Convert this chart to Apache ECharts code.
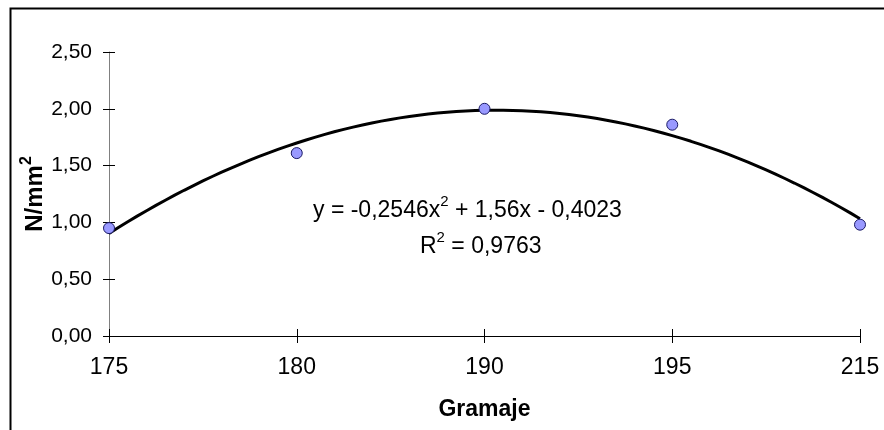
<!DOCTYPE html>
<html>
<head>
<meta charset="utf-8">
<script src="https://cdn.jsdelivr.net/npm/echarts@6/dist/echarts.min.js"></script>
<style>
html,body{margin:0;padding:0;background:#fff;}
#c{width:884px;height:430px;}
</style>
</head>
<body>
<div id="c"></div>
<script>
const categories = ['175', '180', '190', '195', '215'];
const values = [0.95, 1.61, 2.00, 1.86, 0.98];
const trendCoef = [-0.2546, 1.56, -0.4023];
const yMin = 0, yMax = 2.5, yStep = 0.5;

const FONT = '"Liberation Sans", Arial, sans-serif';
const pts = values.map((v, i) => [i + 1, v]);
const trend = [];
for (let i = 0; i <= 80; i++) {
  const x = 1 + i * 0.05;
  trend.push([x, trendCoef[0] * x * x + trendCoef[1] * x + trendCoef[2]]);
}
const fmtY = v => v.toFixed(2).replace('.', ',');
const gridPos = {left: 109, right: 24, top: 52, bottom: 94};

const chart = echarts.init(document.getElementById('c'));
chart.setOption({
  animation: false,
  backgroundColor: '#fff',
  grid: [Object.assign({}, gridPos), Object.assign({}, gridPos)],
  xAxis: [{
    type: 'value', min: 1, max: categories.length, interval: 1, gridIndex: 0,
    splitLine: {show: false},
    axisLine: {show: true, onZero: false, lineStyle: {color: '#000', width: 1}},
    axisTick: {show: true, length: 7, lineStyle: {color: '#000'}},
    axisLabel: {formatter: v => categories[v - 1] || '', color: '#000', fontFamily: FONT, fontSize: 23, margin: 20},
    name: 'Gramaje', nameLocation: 'middle', nameGap: 62,
    nameTextStyle: {fontFamily: FONT, fontSize: 23, fontWeight: 'bold', color: '#000'}
  }, {
    type: 'value', min: 1, max: categories.length, interval: 1, gridIndex: 1,
    splitLine: {show: false}, axisLine: {show: false},
    axisTick: {show: true, inside: true, length: 7, lineStyle: {color: '#000'}},
    axisLabel: {show: false}
  }],
  yAxis: [{
    type: 'value', min: yMin, max: yMax, interval: yStep, gridIndex: 0,
    splitLine: {show: false},
    axisLine: {show: true, lineStyle: {color: '#808080', width: 1}},
    axisTick: {show: true, length: 6, lineStyle: {color: '#000'}},
    axisLabel: {formatter: fmtY, color: '#000', fontFamily: FONT, fontSize: 21, margin: 17},
    name: '{b|N/mm}{s|2}', nameLocation: 'middle', nameGap: 62, nameRotate: 90,
    nameMoveOverlap: false,
    nameTextStyle: {
      rich: {
        b: {fontFamily: FONT, fontSize: 24, fontWeight: 'bold', color: '#000', lineHeight: 28, verticalAlign: 'bottom'},
        s: {fontFamily: FONT, fontSize: 16, fontWeight: 'bold', color: '#000', lineHeight: 14, verticalAlign: 'top'}
      }
    }
  }, {
    type: 'value', min: yMin, max: yMax, interval: yStep, gridIndex: 1,
    splitLine: {show: false}, axisLine: {show: false},
    axisTick: {show: true, inside: true, length: 6, lineStyle: {color: '#000'}},
    axisLabel: {show: false}
  }],
  series: [{
    type: 'line', data: trend, showSymbol: false, symbol: 'none',
    lineStyle: {color: '#000', width: 3}, z: 3
  }, {
    type: 'scatter', data: pts, symbol: 'circle', symbolSize: 11,
    itemStyle: {color: '#9999FF', borderColor: '#1a1a66', borderWidth: 1, opacity: 1}, z: 4
  }],
  graphic: [{
    type: 'rect', left: 8, top: 6, silent: true,
    shape: {width: 1000, height: 1000},
    style: {fill: 'none', stroke: '#000', lineWidth: 2}
  }, {
    type: 'text', left: 313, top: 194, silent: true,
    style: {
      text: '{a|y = -0,2546x}{s|2}{a| + 1,56x - 0,4023}',
      rich: {
        a: {fontFamily: FONT, fontSize: 23, color: '#000', lineHeight: 28, verticalAlign: 'bottom'},
        s: {fontFamily: FONT, fontSize: 15, color: '#000', lineHeight: 15, verticalAlign: 'top'}
      }
    }
  }, {
    type: 'text', left: 420, top: 230, silent: true,
    style: {
      text: '{a|R}{s|2}{a| = 0,9763}',
      rich: {
        a: {fontFamily: FONT, fontSize: 23, color: '#000', lineHeight: 28, verticalAlign: 'bottom'},
        s: {fontFamily: FONT, fontSize: 15, color: '#000', lineHeight: 15, verticalAlign: 'top'}
      }
    }
  }]
});
</script>
</body>
</html>
